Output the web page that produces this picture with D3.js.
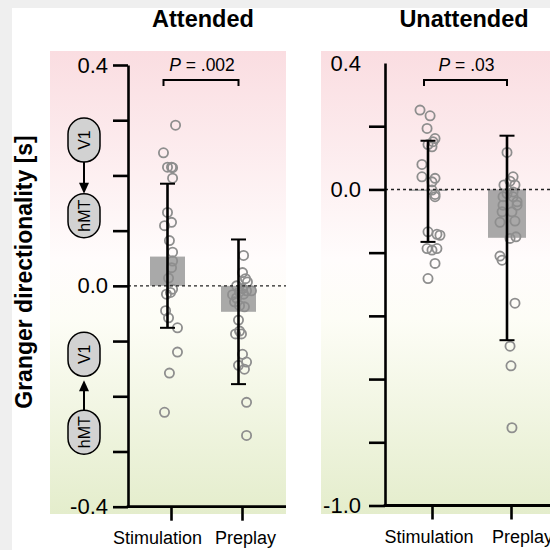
<!DOCTYPE html>
<html>
<head>
<meta charset="utf-8">
<script src="https://cdn.jsdelivr.net/npm/d3@7"></script>
<style>
  html, body { margin: 0; padding: 0; background: #efefef; }
  svg { display: block; }
  text { font-family: "Liberation Sans", Arial, sans-serif; fill: #000; }
</style>
</head>
<body>
<div id="chart"></div>
<script>
// ---- data ----
const categories = ["Stimulation", "Preplay"];

// Attended: individual subjects (jitter = horizontal spread, fraction of half bar width)
const attStim = [0.291, 0.241, 0.215, 0.215, 0.214, 0.195, 0.133, 0.115, 0.109, 0.082, 0.061, 0.045,
  0.033, 0.014, -0.006, -0.012, -0.015, -0.045, -0.058, -0.076, -0.12, -0.158, -0.229];
const attStimJitter = [0.46, -0.23, 0, 0.23, 0.29, 0.29, 0, 0.23, -0.17, 0.11, 0.29, 0.29,
  0.23, 0.06, 0.29, 0.17, -0.06, -0.11, 0.06, 0.57, 0.57, 0.11, -0.17];
const attPre = [0.055, 0.024, 0.013, 0.007, 0.0, -0.005, -0.009, -0.009, -0.011, -0.015, -0.016, -0.022,
  -0.029, -0.036, -0.038, -0.062, -0.082, -0.087, -0.087, -0.124, -0.138, -0.144, -0.151, -0.211, -0.271];
const attPreJitter = [0.29, 0.23, 0.4, 0.51, -0.11, 0.23, 0.74, 0.46, 0.06, 0.29, -0.34, -0.11,
  -0.23, 0.06, 0.34, 0, 0.06, -0.17, 0.17, 0.23, 0.46, 0, 0.34, 0.46, 0.46];
const attMeans = [0.053, -0.047];
const attErrLow = [-0.076, -0.178];
const attErrHigh = [0.185, 0.084];

// Unattended
const unStim = [0.251, 0.233, 0.193, 0.161, 0.151, 0.142, 0.135, 0.079, 0.040, 0.035, 0.024, -0.002,
  -0.016, -0.023, -0.134, -0.142, -0.145, -0.187, -0.192, -0.187, -0.234, -0.282];
const unStimJitter = [-0.42, 0.11, -0.05, 0.37, 0.26, 0, 0.21, -0.32, -0.32, 0.37, 0.21, 0.21,
  0.37, 0.37, 0, 0.47, 0.63, -0.05, 0.21, 0.47, 0.37, 0];
const unPre = [0.117, 0.040, 0.026, 0.014, 0.014, -0.008, -0.013, -0.023, -0.023, -0.039, -0.050, -0.050,
  -0.071, -0.071, -0.100, -0.104, -0.150, -0.155, -0.211, -0.224, -0.36, -0.496, -0.558, -0.754];
const unPreJitter = [0, 0.32, 0.16, -0.16, 0.42, 0.32, 0, -0.21, 0.32, 0.53, -0.21, 0.53,
  0.26, -0.26, 0.42, -0.37, 0.47, 0.16, -0.37, -0.26, 0.42, 0.16, 0.21, 0.26];
const unMeans = [-0.005, -0.153];
const unErrLow = [-0.166, -0.477];
const unErrHigh = [0.154, 0.170];

const panelTitles = ["Attended", "Unattended"];
const pValues = [".002", ".03"];
const attTicks = d3.range(-4, 5).map(i => i / 10);
const attLabeled = [-0.4, 0, 0.4];
const unTicks = d3.range(-5, 3).map(i => i / 5);
const unLabeled = [-1.0, 0, 0.4];

// ---- drawing ----
const width = 550, height = 550;

const svg = d3.select("#chart")
  .append("svg")
  .attr("width", width)
  .attr("height", height);

svg.append("rect")
  .attr("x", 12).attr("y", 8)
  .attr("width", width - 12).attr("height", height - 8)
  .attr("fill", "#ffffff");

const grad = svg.append("defs").append("linearGradient")
  .attr("id", "bg")
  .attr("x1", 0).attr("y1", 0).attr("x2", 0).attr("y2", 1);
grad.append("stop").attr("offset", "0%").attr("stop-color", "#fadde1");
grad.append("stop").attr("offset", "45%").attr("stop-color", "#fffcfc");
grad.append("stop").attr("offset", "58%").attr("stop-color", "#fdfdf6");
grad.append("stop").attr("offset", "100%").attr("stop-color", "#e4edcc");

const panels = [
  {
    title: panelTitles[0], p: pValues[0],
    groups: [[attStim, attStimJitter], [attPre, attPreJitter]],
    means: attMeans, lo: attErrLow, hi: attErrHigh,
    domain: [-0.4, 0.4], ticks: attTicks, labeled: attLabeled,
    bgLeft: 50, bgRight: 286, axisX: 128, yTop: 65, yBottom: 506.7,
    posA: 43, posB: 114, barW: 35, barShift: -3.5, tickLen: 15, pad: 5,
    labelShift: [-14, 3], titleX: 203, hideTopTick: false
  },
  {
    title: panelTitles[1], p: pValues[1],
    groups: [[unStim, unStimJitter], [unPre, unPreJitter]],
    means: unMeans, lo: unErrLow, hi: unErrHigh,
    domain: [-1.0, 0.4], ticks: unTicks, labeled: unLabeled,
    bgLeft: 321, bgRight: 562, axisX: 385, yTop: 63, yBottom: 505.5,
    posA: 47, posB: 126, barW: 38, barShift: -4, tickLen: 16, pad: 8,
    labelShift: [-3.5, 11], titleX: 464, hideTopTick: true
  }
];

const bgTop = 51, bgBottom = 514;

panels.forEach((pn) => {
  const g = svg.append("g");

  g.append("rect")
    .attr("x", pn.bgLeft).attr("y", bgTop)
    .attr("width", pn.bgRight - pn.bgLeft).attr("height", bgBottom - bgTop)
    .attr("fill", "url(#bg)");

  const y = d3.scaleLinear().domain(pn.domain).range([pn.yBottom, pn.yTop]);
  const x = d3.scalePoint().domain(categories).range([pn.axisX + pn.posA, pn.axisX + pn.posB]);
  const cx = (c) => x(c) + pn.barShift;
  const jit = d3.scaleLinear().domain([-1, 1]).range([-pn.barW / 2, pn.barW / 2]);

  // bars (means)
  g.selectAll(".bar")
    .data(categories)
    .enter()
    .append("rect")
    .attr("class", "bar")
    .attr("x", (c) => cx(c) - pn.barW / 2)
    .attr("width", pn.barW)
    .attr("y", (c, i) => Math.min(y(pn.means[i]), y(0)))
    .attr("height", (c, i) => Math.abs(y(pn.means[i]) - y(0)))
    .attr("fill", "#9a9a9a")
    .attr("opacity", 0.85);

  // individual points
  pn.groups.forEach(([vals, jitter], gi) => {
    g.selectAll(".dot" + gi)
      .data(vals)
      .enter()
      .append("circle")
      .attr("cx", (d, i) => cx(categories[gi]) + jit(jitter[i]))
      .attr("cy", (d) => y(d))
      .attr("r", 4.6)
      .attr("fill", "none")
      .attr("stroke", "#8e8e8e")
      .attr("stroke-width", 1.8);
  });

  // zero line
  g.append("line")
    .attr("x1", pn.axisX).attr("x2", pn.bgRight)
    .attr("y1", y(0)).attr("y2", y(0))
    .attr("stroke", "#222")
    .attr("stroke-width", 1.4)
    .attr("stroke-dasharray", "3,3");

  // error bars
  categories.forEach((c, i) => {
    g.append("line")
      .attr("x1", cx(c)).attr("x2", cx(c))
      .attr("y1", y(pn.hi[i])).attr("y2", y(pn.lo[i]))
      .attr("stroke", "#000").attr("stroke-width", 2.6);
    [pn.hi[i], pn.lo[i]].forEach((v) => {
      g.append("line")
        .attr("x1", cx(c) - 7.5).attr("x2", cx(c) + 7.5)
        .attr("y1", y(v)).attr("y2", y(v))
        .attr("stroke", "#000").attr("stroke-width", 2);
    });
  });

  // y axis
  const yAxis = d3.axisLeft(y)
    .tickValues(pn.ticks)
    .tickSize(pn.tickLen)
    .tickSizeOuter(0)
    .tickPadding(pn.pad)
    .tickFormat((d) => pn.labeled.some((v) => Math.abs(v - d) < 1e-9) ? d.toFixed(1) : "");

  const ya = g.append("g")
    .attr("transform", `translate(${pn.axisX},0)`)
    .call(yAxis);
  ya.selectAll("path, line").attr("stroke", "#000").attr("stroke-width", 2.6);
  ya.selectAll("text")
    .style("font-size", "22px")
    .style("font-family", "'Liberation Sans', Arial, sans-serif")
    .attr("fill", "#000");
  if (pn.hideTopTick) {
    ya.selectAll(".tick").filter((d) => Math.abs(d - pn.domain[1]) < 1e-9).select("line").remove();
  }

  // x axis
  const xAxis = d3.axisBottom(x).tickSize(14).tickPadding(11).tickSizeOuter(0);
  const xa = g.append("g")
    .attr("transform", `translate(0,${pn.yBottom})`)
    .call(xAxis);
  xa.select(".domain").remove();
  xa.selectAll("line").attr("stroke", "#000").attr("stroke-width", 2.6);
  xa.selectAll("text")
    .attr("dx", (d, i) => pn.labelShift[i])
    .style("font-size", "18px")
    .style("font-family", "'Liberation Sans', Arial, sans-serif")
    .attr("fill", "#000");
  g.append("line")
    .attr("x1", pn.axisX - 1.3).attr("x2", pn.bgRight)
    .attr("y1", pn.yBottom).attr("y2", pn.yBottom)
    .attr("stroke", "#000").attr("stroke-width", 2.8);

  // significance bracket
  const bx1 = cx(categories[0]) - 4, bx2 = cx(categories[1]);
  g.append("path")
    .attr("d", `M${bx1},86 V80 H${bx2} V86`)
    .attr("fill", "none")
    .attr("stroke", "#000")
    .attr("stroke-width", 2);
  const pt = g.append("text")
    .attr("x", (bx1 + bx2) / 2 + 1)
    .attr("y", 71)
    .attr("text-anchor", "middle")
    .style("font-size", "17.5px");
  pt.append("tspan").style("font-style", "italic").text("P");
  pt.append("tspan").text(" = " + pn.p);

  // title
  g.append("text")
    .attr("x", pn.titleX)
    .attr("y", 27)
    .attr("text-anchor", "middle")
    .style("font-size", "23.5px")
    .style("font-weight", "bold")
    .text(pn.title);

  if (pn === panels[0]) drawPathway(g, y, pn.axisX - 44);
});

// y label
svg.append("text")
  .attr("transform", "translate(32,272) rotate(-90)")
  .attr("text-anchor", "middle")
  .style("font-size", "23px")
  .style("font-weight", "bold")
  .text("Granger directionality [s]");

// V1 / hMT direction cartoons
function drawPathway(g, y, px) {
  const pillW = 32, pillH = 44;
  const pill = (label, v) => {
    const cy = y(v);
    g.append("rect")
      .attr("x", px - pillW / 2).attr("y", cy - pillH / 2)
      .attr("width", pillW).attr("height", pillH)
      .attr("rx", pillW / 2).attr("ry", pillW / 2)
      .attr("fill", "#d2d2d2")
      .attr("stroke", "#000")
      .attr("stroke-width", 1.5);
    g.append("text")
      .attr("transform", `translate(${px + 5.5},${cy}) rotate(-90)`)
      .attr("text-anchor", "middle")
      .style("font-size", "16px")
      .text(label);
    return cy;
  };
  const arrow = (from, to) => {
    const dir = to > from ? 1 : -1;
    g.append("line")
      .attr("x1", px).attr("x2", px)
      .attr("y1", from).attr("y2", to - dir * 9)
      .attr("stroke", "#000").attr("stroke-width", 2);
    g.append("path")
      .attr("d", `M${px - 5},${to - dir * 11} L${px + 5},${to - dir * 11} L${px},${to} Z`)
      .attr("fill", "#000");
  };
  const v1a = pill("V1", 0.264);
  const hmta = pill("hMT", 0.127);
  arrow(v1a + pillH / 2, hmta - pillH / 2);
  const v1b = pill("V1", -0.124);
  const hmtb = pill("hMT", -0.265);
  arrow(hmtb - pillH / 2, v1b + pillH / 2 + 4);
}
</script>
</body>
</html>
